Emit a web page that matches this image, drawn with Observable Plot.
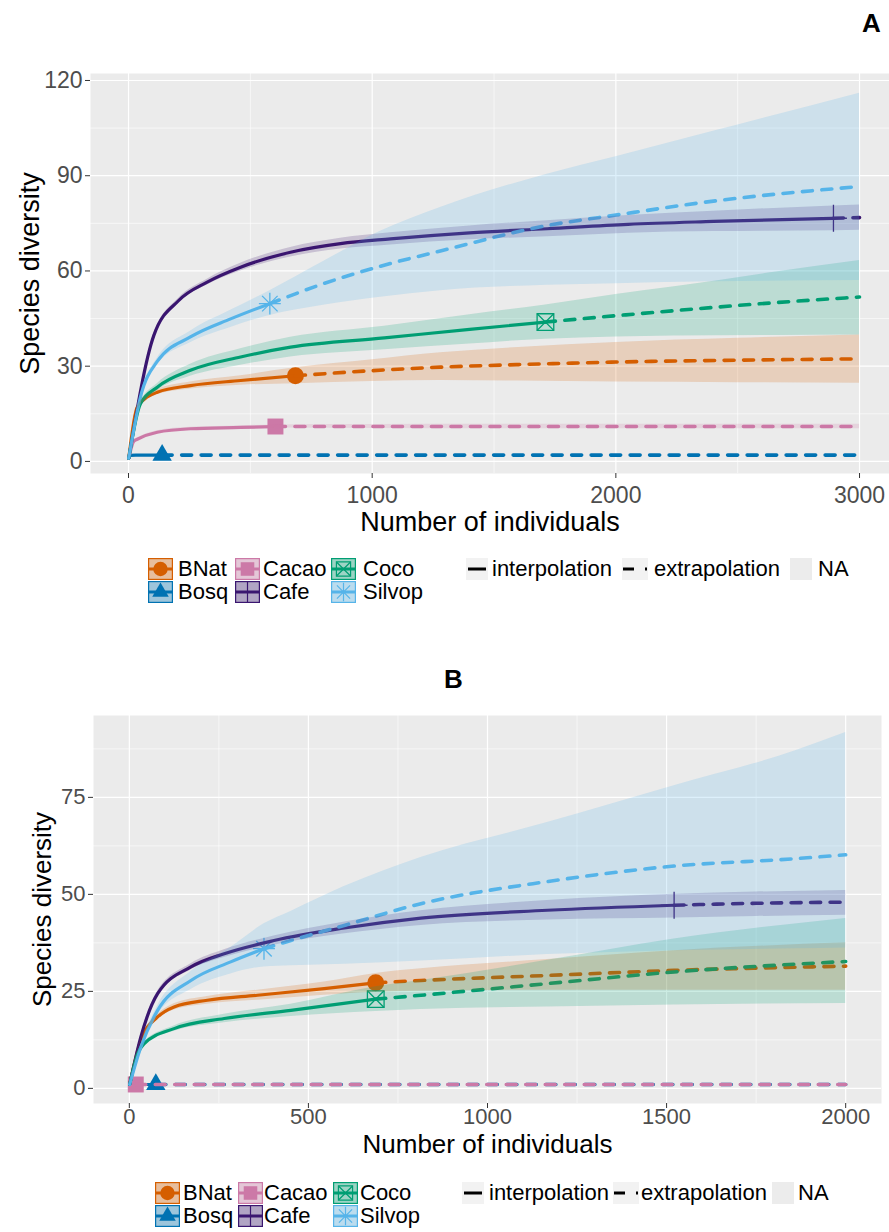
<!DOCTYPE html>
<html>
<head>
<meta charset="utf-8">
<script src="https://cdn.jsdelivr.net/npm/d3@7"></script>
<script src="https://cdn.jsdelivr.net/npm/@observablehq/plot@0.6"></script>
<style>
  body { margin: 0; background: #fff; }
  #fig { position: relative; width: 889px; height: 1232px; overflow: hidden;
         font-family: "Liberation Sans", Arial, Helvetica, sans-serif; color: #000; }
  .tag { position: absolute; font-weight: bold; font-size: 26px; line-height: 26px; }
  .box { position: absolute; left: 0; }
  .key { position: absolute; }
  .lab { position: absolute; font-size: 22px; line-height: 22px; white-space: nowrap; }
</style>
</head>
<body>
<div id="fig"></div>
<script>
// Sites (habitats) and their colours
const sites = ["BNat", "Bosq", "Cacao", "Cafe", "Coco", "Silvop"];
const siteColors = ["#D55E00", "#0072B2", "#CC79A7", "#3A1670", "#009E73", "#56B4E9"];
const lineTypes = ["interpolation", "extrapolation", "NA"];

// Panel A: rarefaction/extrapolation rows [individuals m, richness qD, lower CI, upper CI]
const curveA_BNat = [[1,1,1,1],[36,17.1,16.6,17.6],[118,21.8,21.0,22.6],[254,23.9,22.8,25.0],[460,25.5,24.0,27.0],[685,27.0,24.5,29.5],[1000,28.6,25.2,32.0],[1280,29.7,25.5,34.2],[1600,30.5,25.3,35.9],[2000,31.3,25.0,37.5],[2500,31.9,24.8,38.8],[3000,32.3,24.6,39.8]];
const curveA_Bosq = [[1,1,1,1],[7,1.9,1.9,1.9],[30,2,2,2],[138,2,2,2],[1000,2,2,2],[3000,2,2,2]];
const curveA_Cacao = [[1,1,1,1],[22,6.4,6.0,6.8],[36,7.0,6.6,7.4],[118,9.2,8.7,9.7],[254,10.3,9.8,10.8],[460,10.7,10.2,11.2],[603,11,10.5,11.5],[1000,11,10.4,11.6],[2000,11,10.3,11.7],[3000,11,10.3,11.7]];
const curveA_Cafe = [[1,1,1,1],[104,39.7,39.2,40.2],[206,50.7,50.0,51.4],[323,56.5,55.6,57.4],[460,61.2,60.0,62.4],[665,65.9,64.4,67.4],[870,68.6,66.9,70.3],[1075,70.1,68.2,72.0],[1400,72.0,69.8,74.2],[1718,73.3,70.8,75.8],[2050,74.7,71.9,77.5],[2401,75.6,72.4,78.8],[2893,76.6,72.7,80.5],[3000,76.8,72.8,80.8]];
const curveA_Coco = [[1,1,1,1],[49,18.2,17.6,18.8],[118,23.4,22.3,24.5],[254,28.7,26.8,30.6],[460,32.9,30.3,35.5],[665,36.0,32.9,39.1],[1050,38.9,35.2,42.6],[1400,41.6,37.0,46.2],[1711,43.9,38.5,49.3],[2000,45.9,39.2,52.6],[2240,47.5,39.5,55.0],[2650,50.0,39.7,59.6],[3000,51.8,39.8,63.3]];
const curveA_Silvop = [[1,1,1,1],[49,20.3,19.8,20.8],[118,31.5,30.5,32.5],[254,39.2,37.4,41.0],[419,44.9,42.2,47.6],[580,49.7,46.0,53.8],[800,56.0,49.2,63.0],[1034,61.5,51.7,72.5],[1280,66.3,53.8,80.0],[1718,74.3,55.5,90.5],[2000,77.6,56.0,96.0],[2400,82.0,56.6,104.0],[3000,86.6,57.0,116.0]];
// Panel A: observed sample sizes (individuals) per site
const observedA = [685, 138, 603, 2893, 1711, 580];

// Panel B: rarefaction/extrapolation rows [individuals m, richness qD, lower CI, upper CI]
const curveB_BNat = [[1,1,1,1],[32,12.4,12.0,12.8],[79,18.4,17.8,19.0],[125,21.0,20.2,21.8],[218,22.7,21.7,23.7],[358,24.0,22.7,25.3],[544,25.7,24.0,27.4],[688,27.2,24.8,29.6],[814,27.8,25.0,30.8],[1167,29.1,25.3,33.2],[1521,30.4,25.3,35.5],[2000,31.5,25.3,37.5]];
const curveB_Bosq = [[1,1,1,1],[74,1,1,1],[2000,1,1,1]];
const curveB_Cacao = [[1,1,1,1],[18,1,1,1],[2000,1,1,1]];
const curveB_Cafe = [[1,1,1,1],[32,13.2,12.8,13.6],[79,24.4,23.8,25.0],[172,31.3,30.5,32.1],[265,34.7,33.7,35.7],[404,38.1,36.9,39.3],[590,41.2,39.7,42.7],[814,43.9,42.0,45.8],[1167,45.9,43.4,48.4],[1521,47.2,43.9,50.0],[1750,47.7,44.3,50.6],[2000,48.0,44.6,51.0]];
const curveB_Coco = [[1,1,1,1],[23,8.9,8.6,9.2],[41,11.5,11.1,11.9],[125,15.4,14.7,16.1],[265,18.0,16.9,19.1],[451,20.1,18.5,21.7],[688,23.0,19.8,26.2],[814,24.0,20.3,27.8],[1167,27.0,21.0,33.0],[1521,30.0,21.5,38.5],[2000,32.7,21.9,43.8]];
const curveB_Silvop = [[1,1,1,1],[32,10.6,10.0,11.2],[79,20.1,18.9,21.3],[172,27.8,25.5,30.1],[283,32.6,29.5,36.3],[376,36.0,31.3,42.4],[451,38.1,31.6,45.6],[600,42.0,32.0,52.0],[814,47.6,32.8,59.5],[1167,53.3,34.5,68.5],[1521,57.3,35.5,78.0],[1860,59.2,36.0,87.0],[2000,60.2,36.2,91.7]];
// Panel B: observed sample sizes (individuals) per site
const observedB = [688, 74, 18, 1521, 688, 376];

// Axis ticks
const xTicksA = [0, 1000, 2000, 3000];
const xMinorA = [500, 1500, 2500];
const yTicksA = [0, 30, 60, 90, 120];
const yMinorA = [15, 45, 75, 105];
const xTicksB = [0, 500, 1000, 1500, 2000];
const xMinorB = [250, 750, 1250, 1750];
const yTicksB = [0, 25, 50, 75];
const yMinorB = [12.5, 37.5, 62.5, 87.5];

// Point symbols for each site (in the same order as sites)
const pointStyle = [
  [{symbol: "circle", r: 8.5, filled: true}],
  [{symbol: "triangle", r: 7.2, filled: true}],
  [{symbol: "square", r: 9, filled: true}],
  [{symbol: "plus", r: 8.7}],
  [{symbol: "square", r: 9.4}, {symbol: "times", r: 7.6}],
  [{symbol: "plus", r: 7.1}, {symbol: "times", r: 7.1}]
];
const d3Symbols = {circle: d3.symbolCircle, triangle: d3.symbolTriangle, square: d3.symbolSquare, plus: d3.symbolPlus, times: d3.symbolTimes};

const FONT = '"Liberation Sans", Arial, Helvetica, sans-serif';
const fig = document.getElementById("fig");

function drawPanel(cfg) {
  const rows = sites.flatMap((s, i) => cfg.curves[i].map(([m, qD, lo, hi]) => ({site: s, m, qD, lo, hi, n: cfg.observed[i]})));
  const interp = rows.filter(d => d.m <= d.n);
  const extrap = rows.filter(d => d.m >= d.n);
  const obs = rows.filter(d => d.m === d.n);
  const pointMarks = sites.flatMap((s, i) => pointStyle[i].map(st => Plot.dot(obs.filter(d => d.site === s), {
    x: "m", y: "qD", symbol: st.symbol, r: st.r,
    fill: st.filled ? siteColors[i] : "none",
    stroke: st.filled ? "none" : siteColors[i],
    strokeWidth: 1.3
  })));
  return Plot.plot({
    width: 889,
    height: cfg.height,
    marginTop: cfg.mt, marginBottom: cfg.mb, marginLeft: cfg.ml, marginRight: cfg.mr,
    x: {domain: cfg.xDomain, label: null},
    y: {domain: cfg.yDomain, label: null},
    color: {domain: sites, range: siteColors},
    style: {fontFamily: FONT, fontSize: "23px", background: "transparent", color: "#000"},
    marks: [
      Plot.frame({fill: "#EBEBEB", stroke: "none"}),
      Plot.ruleX(cfg.xMinor, {stroke: "white", strokeWidth: 0.6}),
      Plot.ruleY(cfg.yMinor, {stroke: "white", strokeWidth: 0.6}),
      Plot.ruleX(cfg.xTicks, {stroke: "white", strokeWidth: 1.2}),
      Plot.ruleY(cfg.yTicks, {stroke: "white", strokeWidth: 1.2}),
      ...pointMarks,
      Plot.line(interp, {x: "m", y: "qD", z: "site", stroke: "site", strokeWidth: 3.2, strokeLinejoin: "round", curve: "monotone-x"}),
      Plot.line(extrap, {x: "m", y: "qD", z: "site", stroke: "site", strokeWidth: 3.6, strokeDasharray: "10,9.5", curve: "monotone-x"}),
      Plot.areaY(rows, {x: "m", y1: "lo", y2: "hi", z: "site", fill: "site", fillOpacity: 0.2, curve: "monotone-x"}),
      Plot.axisX(cfg.xTicks, {tickSize: 5, tickPadding: cfg.xPad, tickFormat: "d", fontSize: cfg.tickFont, fill: "#4D4D4D", stroke: "#333", label: null}),
      Plot.axisY(cfg.yTicks, {tickSize: 5, tickPadding: 3, tickFormat: "d", fontSize: cfg.tickFont, fill: "#4D4D4D", stroke: "#333", label: null}),
      Plot.text(["Number of individuals"], {frameAnchor: "bottom", dy: cfg.xTitleDy, textAnchor: "middle", lineAnchor: "middle", fontSize: cfg.titleFont, fill: "#000"}),
      Plot.text(["Species diversity"], {frameAnchor: "left", dx: cfg.yTitleDx, rotate: -90, textAnchor: "middle", lineAnchor: "middle", fontSize: cfg.titleFont, fill: "#000"})
    ]
  });
}

function place(el, top) {
  const box = document.createElement("div");
  box.className = "box";
  box.style.top = top + "px";
  box.appendChild(el);
  fig.appendChild(box);
}

function addText(txt, left, top, cls) {
  const d = document.createElement("div");
  d.className = cls;
  d.textContent = txt;
  d.style.left = left + "px";
  d.style.top = top + "px";
  fig.appendChild(d);
}

function siteKey(i) {
  const w = 25, h = 22, c = siteColors[i];
  const svg = d3.create("svg").attr("width", w).attr("height", h);
  svg.append("rect").attr("width", w).attr("height", h).attr("fill", "#F2F2F2");
  svg.append("rect").attr("x", 0.6).attr("y", 0.6).attr("width", w - 1.2).attr("height", h - 1.2)
    .attr("fill", c).attr("fill-opacity", 0.35).attr("stroke", c).attr("stroke-width", 1.2);
  svg.append("line").attr("x1", 0).attr("x2", w).attr("y1", h / 2).attr("y2", h / 2).attr("stroke", c).attr("stroke-width", 3);
  for (const st of pointStyle[i]) {
    const r = st.r * 0.85;
    svg.append("path").attr("transform", `translate(${w / 2},${h / 2})`)
      .attr("d", d3.symbol(d3Symbols[st.symbol], Math.PI * r * r)())
      .attr("fill", st.filled ? c : "none").attr("stroke", st.filled ? "none" : c).attr("stroke-width", 1.2);
  }
  return svg.node();
}

function typeKey(kind) {
  const w = kind === "extrapolation" ? 26 : 22, h = 22;
  const svg = d3.create("svg").attr("width", w).attr("height", h);
  svg.append("rect").attr("width", w).attr("height", h).attr("fill", kind === "NA" ? "#ECECEC" : "#F2F2F2");
  if (kind === "interpolation") {
    svg.append("line").attr("x1", 2).attr("x2", w - 2).attr("y1", h / 2).attr("y2", h / 2).attr("stroke", "#000").attr("stroke-width", 3);
  } else if (kind === "extrapolation") {
    svg.append("line").attr("x1", 1).attr("x2", w - 1).attr("y1", h / 2).attr("y2", h / 2).attr("stroke", "#000").attr("stroke-width", 3).attr("stroke-dasharray", "11,11");
  }
  return svg.node();
}

function drawLegend(top, siteKeyX, siteTextX, typeKeyX, typeTextX) {
  sites.forEach((s, i) => {
    const col = Math.floor(i / 2), row = i % 2;
    const k = siteKey(i);
    k.classList.add("key");
    k.style.left = siteKeyX[col] + "px";
    k.style.top = (top + row * 23) + "px";
    fig.appendChild(k);
    addText(s, siteTextX[col], top + row * 23, "lab");
  });
  lineTypes.forEach((t, j) => {
    const k = typeKey(t);
    k.classList.add("key");
    k.style.left = typeKeyX[j] + "px";
    k.style.top = top + "px";
    fig.appendChild(k);
    addText(t, typeTextX[j], top, "lab");
  });
}

// Panel A
addText("A", 862, 10, "tag");
place(drawPanel({
  curves: [curveA_BNat, curveA_Bosq, curveA_Cacao, curveA_Cafe, curveA_Coco, curveA_Silvop],
  observed: observedA,
  height: 545, mt: 73, mb: 72, ml: 90, mr: 0,
  xDomain: [-156, 3123], yDomain: [-3.8, 122.2],
  xTicks: xTicksA, xMinor: xMinorA, yTicks: yTicksA, yMinor: yMinorA,
  xPad: 8, xTitleDy: 49, yTitleDx: -60, tickFont: 23, titleFont: 27
}), 0);
drawLegend(558, [148, 235, 331], [178, 263, 363], [466, 622, 790], [492, 654, 818]);

// Panel B
addText("B", 444, 666, "tag");
place(drawPanel({
  curves: [curveB_BNat, curveB_Bosq, curveB_Cacao, curveB_Cafe, curveB_Coco, curveB_Silvop],
  observed: observedB,
  height: 530, mt: 75, mb: 67, ml: 93, mr: 8,
  xDomain: [-100, 2100], yDomain: [-3.9, 96.1],
  xTicks: xTicksB, xMinor: xMinorB, yTicks: yTicksB, yMinor: yMinorB,
  xPad: 0, xTitleDy: 41, yTitleDx: -51, tickFont: 22, titleFont: 26
}), 640);
drawLegend(1182, [155, 238, 333], [183, 264, 360], [462, 613, 772], [489, 641, 798]);
</script>
</body>
</html>
